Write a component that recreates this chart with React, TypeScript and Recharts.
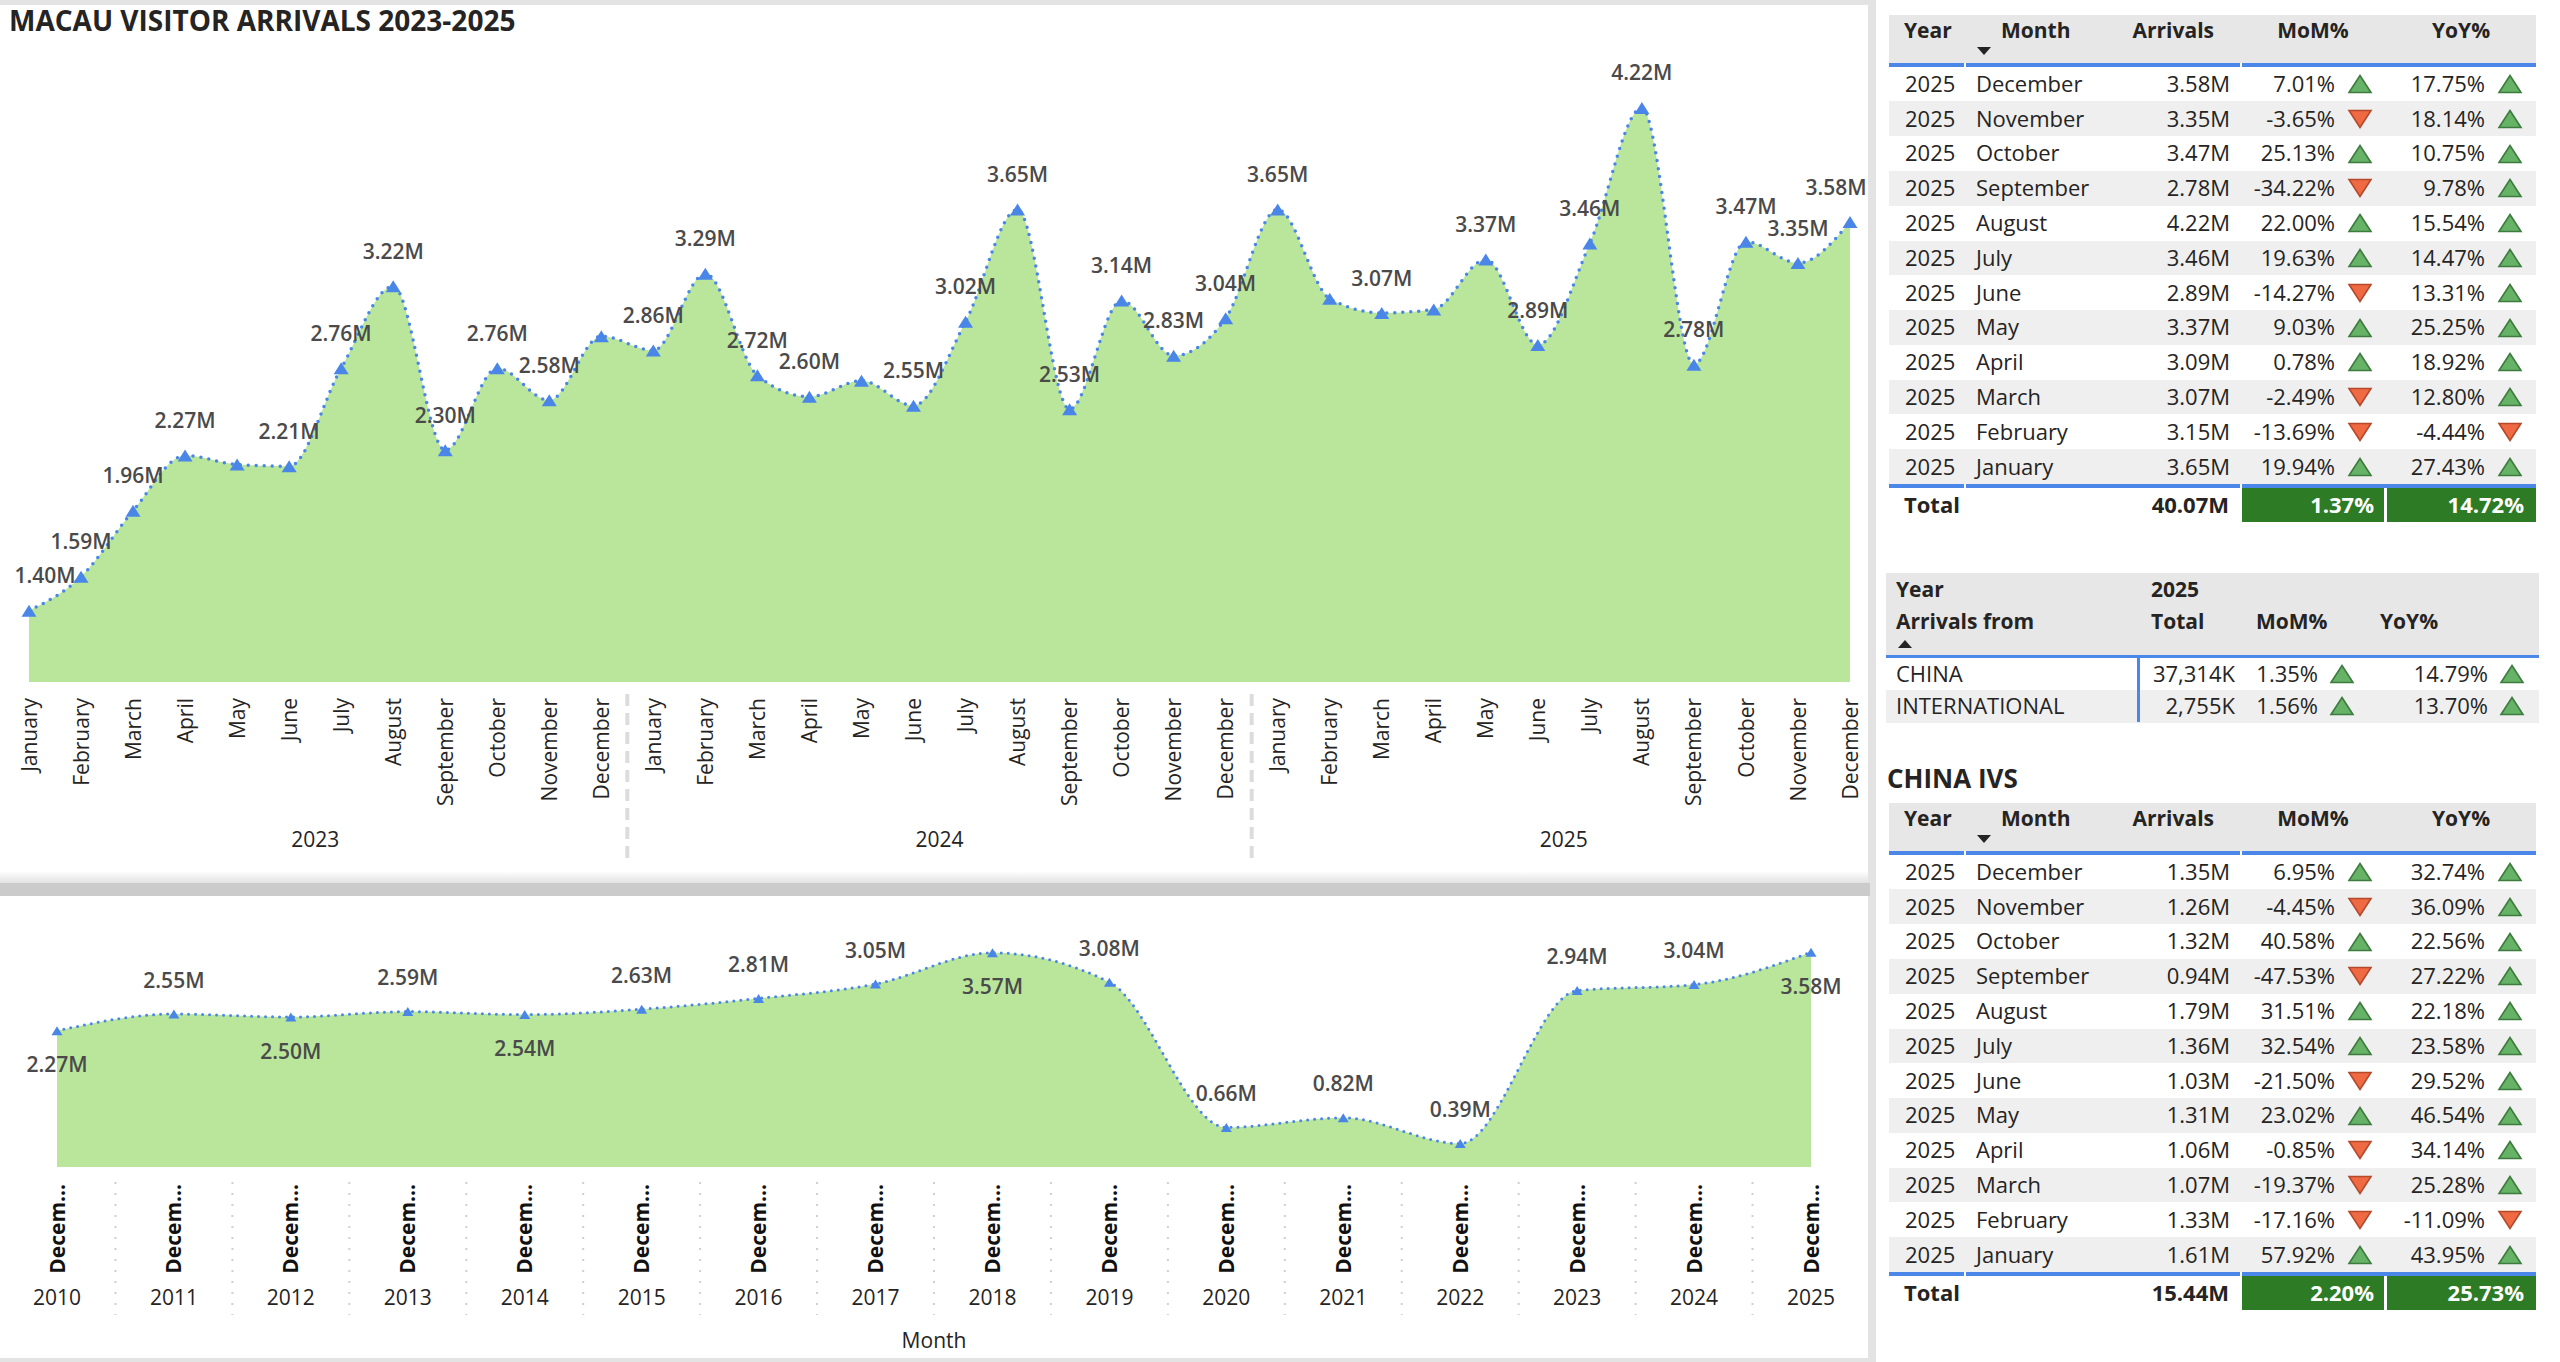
import React from 'react';
import { ComposedChart, Area, Line, XAxis, YAxis } from 'recharts';

const FONT = '"Open Sans", "Noto Sans", sans-serif';
const INK = '#252423';
const LABEL_INK = '#4a4a4a';
const MARKER = '#4a86e8';
const FILL = '#b9e69b';
const RULE_BLUE = '#4b87e8';
const HEAD_BG = '#e7e7e7';
const ROW_BG = '#efefef';
const TOTAL_GREEN = '#2e7b25';

const MONTHS = [
  'January', 'February', 'March', 'April', 'May', 'June',
  'July', 'August', 'September', 'October', 'November', 'December'
];
const YEARS = [2023, 2024, 2025];

// monthly visitor arrivals, millions
const ARRIVALS_2023 = [1.40, 1.59, 1.96, 2.27, 2.22, 2.21, 2.76, 3.22, 2.30, 2.76, 2.58, 2.94];
const ARRIVALS_2024 = [2.86, 3.29, 2.72, 2.60, 2.69, 2.55, 3.02, 3.65, 2.53, 3.14, 2.83, 3.04];
const ARRIVALS_2025 = [3.65, 3.15, 3.07, 3.09, 3.37, 2.89, 3.46, 4.22, 2.78, 3.47, 3.35, 3.58];
const MOM_2025 = [19.94, -13.69, -2.49, 0.78, 9.03, -14.27, 19.63, 22.00, -34.22, 25.13, -3.65, 7.01];
const YOY_2025 = [27.43, -4.44, 12.80, 18.92, 25.25, 13.31, 14.47, 15.54, 9.78, 10.75, 18.14, 17.75];
const TOTAL_2025 = [40.07, 1.37, 14.72]; // arrivals (M), MoM %, YoY %

// December arrivals by year, millions
const DEC_YEARS = [2010, 2011, 2012, 2013, 2014, 2015, 2016, 2017, 2018, 2019, 2020, 2021, 2022, 2023, 2024, 2025];
const DEC_ARRIVALS = [2.27, 2.55, 2.50, 2.59, 2.54, 2.63, 2.81, 3.05, 3.57, 3.08, 0.66, 0.82, 0.39, 2.94, 3.04, 3.58];

// arrivals by origin, 2025
const SOURCES = ['CHINA', 'INTERNATIONAL'];
const SOURCE_TOTAL_K = [37314, 2755];
const SOURCE_MOM = [1.35, 1.56];
const SOURCE_YOY = [14.79, 13.70];

// China individual visit scheme, 2025
const IVS_ARRIVALS_2025 = [1.61, 1.33, 1.07, 1.06, 1.31, 1.03, 1.36, 1.79, 0.94, 1.32, 1.26, 1.35];
const IVS_MOM_2025 = [57.92, -17.16, -19.37, -0.85, 23.02, -21.50, 32.54, 31.51, -47.53, 40.58, -4.45, 6.95];
const IVS_YOY_2025 = [43.95, -11.09, 25.28, 34.14, 46.54, 29.52, 23.58, 22.18, 27.22, 22.56, 36.09, 32.74];
const IVS_TOTAL_2025 = [15.44, 2.20, 25.73];

const mil = (v: number) => `${v.toFixed(2)}M`;
const pct = (v: number) => `${v.toFixed(2)}%`;

const monthlyData = YEARS.flatMap((year, yi) =>
  [ARRIVALS_2023, ARRIVALS_2024, ARRIVALS_2025][yi].map((v, mi) => ({
    key: `${year}-${mi}`,
    year,
    month: MONTHS[mi],
    arrivals: v
  }))
);

const decemberData = DEC_YEARS.map((year, i) => ({ year, month: 'December', arrivals: DEC_ARRIVALS[i] }));

// chart geometry
const TOP_W = 1868;
const TOP_H = 880;
const TOP_MARGIN = { top: 58, right: 18, left: 29, bottom: 0 };
const TOP_AXIS_H = 198;
const TOP_STEP = (TOP_W - TOP_MARGIN.left - TOP_MARGIN.right) / (monthlyData.length - 1);
const TOP_UNLABELLED = new Set(['2023-4', '2023-11', '2024-4', '2025-1', '2025-3']);

const BOT_Y = 896;
const BOT_W = 1868;
const BOT_H = 466;
const BOT_MARGIN = { top: 31, right: 57, left: 57, bottom: 0 };
const BOT_AXIS_H = 195;
const BOT_STEP = (BOT_W - BOT_MARGIN.left - BOT_MARGIN.right) / (decemberData.length - 1);
const BOT_LABEL_BELOW = new Set([2010, 2012, 2014, 2018, 2025]);

const tri = (cx: number, cy: number, w: number, h: number) =>
  `${cx},${cy - h / 2} ${cx + w / 2},${cy + h / 2} ${cx - w / 2},${cy + h / 2}`;

function MonthTick({ x, y, payload }: any) {
  const [year, mi] = String(payload.value).split('-').map(Number);
  return (
    <g>
      <text
        transform={`translate(${x},${y + 16}) rotate(-90)`}
        textAnchor="end"
        dy="0.36em"
        fontSize={21}
        fontFamily={FONT}
        fill={INK}
      >
        {MONTHS[mi]}
      </text>
      {mi === 5 && (
        <text x={x + TOP_STEP / 2} y={y + 157} dy="0.36em" textAnchor="middle" fontSize={21} fontFamily={FONT} fill={INK}>
          {year}
        </text>
      )}
      {mi === 0 && year !== YEARS[0] && (
        <line
          x1={x - TOP_STEP / 2}
          x2={x - TOP_STEP / 2}
          y1={y + 12}
          y2={y + 176}
          stroke="#dcdcdc"
          strokeWidth={4}
          strokeDasharray="12 7"
        />
      )}
    </g>
  );
}

function DecemberTick({ x, y, payload }: any) {
  const year = Number(payload.value);
  const last = year === DEC_YEARS[DEC_YEARS.length - 1];
  return (
    <g>
      <text
        transform={`translate(${x},${y + 17}) rotate(-90)`}
        textAnchor="end"
        dy="0.36em"
        fontSize={21}
        fontWeight={700}
        fontFamily={FONT}
        fill="#111"
      >
        {'December'.slice(0, 5) + '...'}
      </text>
      <text x={x} y={y + 130} dy="0.36em" textAnchor="middle" fontSize={21} fontFamily={FONT} fill={INK}>
        {year}
      </text>
      {!last && (
        <line
          x1={x + BOT_STEP / 2}
          x2={x + BOT_STEP / 2}
          y1={y + 15}
          y2={y + 148}
          stroke="#cfcfcf"
          strokeWidth={2}
          strokeDasharray="2 9"
        />
      )}
    </g>
  );
}

const renderTopPoint = (props: any) => {
  const { cx, cy, payload } = props;
  const lx = Math.min(Math.max(cx, 45), 1836);
  return (
    <g key={`tp-${payload.key}`}>
      <polygon points={tri(cx, cy, 15, 12)} fill={MARKER} />
      {!TOP_UNLABELLED.has(payload.key) && (
        <text
          x={lx}
          y={cy - 35}
          dy="0.36em"
          textAnchor="middle"
          fontSize={21}
          fontWeight={600}
          fontFamily={FONT}
          fill={LABEL_INK}
        >
          {mil(payload.arrivals)}
        </text>
      )}
    </g>
  );
};

const renderDecemberPoint = (props: any) => {
  const { cx, cy, payload } = props;
  const below = BOT_LABEL_BELOW.has(payload.year);
  return (
    <g key={`bp-${payload.year}`}>
      <polygon points={tri(cx, cy, 11, 9)} fill={MARKER} />
      <text
        x={cx}
        y={below ? cy + 34 : cy - 34}
        dy="0.36em"
        textAnchor="middle"
        fontSize={21}
        fontWeight={600}
        fontFamily={FONT}
        fill={LABEL_INK}
      >
        {mil(payload.arrivals)}
      </text>
    </g>
  );
};

function Txt({ x, y, children, align = 'left', size = 22, weight = 400, color = INK }: any) {
  const shift = align === 'left' ? '0' : align === 'right' ? '-100%' : '-50%';
  return (
    <div
      style={{
        position: 'absolute',
        left: x,
        top: y - size * 0.73,
        fontSize: size,
        lineHeight: `${size * 1.4}px`,
        fontWeight: weight,
        color,
        whiteSpace: 'nowrap',
        transform: `translateX(${shift})`
      }}
    >
      {children}
    </div>
  );
}

function Box({ x, y, w, h, bg }: any) {
  return <div style={{ position: 'absolute', left: x, top: y, width: w, height: h, background: bg }} />;
}

function Trend({ x, y, up }: { x: number; y: number; up: boolean }) {
  return (
    <svg style={{ position: 'absolute', left: x - 13, top: y - 10 }} width={26} height={20}>
      {up ? (
        <polygon points="13,1.5 24,18.5 2,18.5" fill="#66b266" stroke="#3e7b3e" strokeWidth={1.6} />
      ) : (
        <polygon points="2,1.5 24,1.5 13,18.5" fill="#ef6a43" stroke="#b4492b" strokeWidth={1.6} />
      )}
    </svg>
  );
}

function SortArrow({ x, y, up }: { x: number; y: number; up: boolean }) {
  return (
    <svg style={{ position: 'absolute', left: x - 7, top: y - 4 }} width={14} height={8}>
      <polygon points={up ? '7,0 14,8 0,8' : '0,0 14,0 7,8'} fill={INK} />
    </svg>
  );
}

function MonthTable({ top, arrivals, mom, yoy, totals }: any) {
  const L = 1889;
  const R = 2536;
  const HEAD = 48;
  const RULE = 3.5;
  const ROW = 34.8;
  const rowsTop = top + HEAD + RULE;
  const footTop = rowsTop + 12 * ROW + RULE;
  const order = MONTHS.map((_, i) => 11 - i);
  const rule = (y: number) => (
    <>
      <Box x={L} y={y} w={1964 - L} h={RULE} bg={RULE_BLUE} />
      <Box x={1966} y={y} w={2240 - 1966} h={RULE} bg={RULE_BLUE} />
      <Box x={2242} y={y} w={R - 2242} h={RULE} bg={RULE_BLUE} />
    </>
  );
  return (
    <>
      <Box x={L} y={top} w={R - L} h={HEAD} bg={HEAD_BG} />
      <Txt x={1904} y={top + 16} size={21} weight={700}>Year</Txt>
      <Txt x={2001} y={top + 16} size={21} weight={700}>Month</Txt>
      <SortArrow x={1984} y={top + 36} up={false} />
      <Txt x={2214} y={top + 16} size={21} weight={700} align="right">Arrivals</Txt>
      <Txt x={2313} y={top + 16} size={21} weight={700} align="center">MoM%</Txt>
      <Txt x={2461} y={top + 16} size={21} weight={700} align="center">YoY%</Txt>
      {rule(top + HEAD)}
      {order.map((mi, r) => {
        const cy = rowsTop + r * ROW + ROW / 2;
        return (
          <React.Fragment key={mi}>
            {r % 2 === 1 && <Box x={L} y={rowsTop + r * ROW} w={R - L} h={ROW} bg={ROW_BG} />}
            <Txt x={1905} y={cy}>2025</Txt>
            <Txt x={1976} y={cy}>{MONTHS[mi]}</Txt>
            <Txt x={2230} y={cy} align="right">{mil(arrivals[mi])}</Txt>
            <Txt x={2335} y={cy} align="right">{pct(mom[mi])}</Txt>
            <Trend x={2360} y={cy} up={mom[mi] >= 0} />
            <Txt x={2485} y={cy} align="right">{pct(yoy[mi])}</Txt>
            <Trend x={2510} y={cy} up={yoy[mi] >= 0} />
          </React.Fragment>
        );
      })}
      {rule(rowsTop + 12 * ROW)}
      <Box x={2242} y={footTop} w={2384 - 2242} h={34} bg={TOTAL_GREEN} />
      <Box x={2387} y={footTop} w={R - 2387} h={34} bg={TOTAL_GREEN} />
      <Txt x={1904} y={footTop + 17} weight={700}>Total</Txt>
      <Txt x={2229} y={footTop + 17} weight={700} align="right">{mil(totals[0])}</Txt>
      <Txt x={2374} y={footTop + 17} weight={700} align="right" color="#fff">{pct(totals[1])}</Txt>
      <Txt x={2524} y={footTop + 17} weight={700} align="right" color="#fff">{pct(totals[2])}</Txt>
    </>
  );
}

function SourceTable() {
  const L = 1886;
  const R = 2539;
  const rowsTop = 657.5;
  const ROW = 32.5;
  return (
    <>
      <Box x={L} y={573} w={R - L} h={82} bg={HEAD_BG} />
      <Txt x={1896} y={590} size={21} weight={700}>Year</Txt>
      <Txt x={2151} y={590} size={21} weight={700}>2025</Txt>
      <Txt x={1896} y={622} size={21} weight={700}>Arrivals from</Txt>
      <Txt x={2151} y={622} size={21} weight={700}>Total</Txt>
      <Txt x={2256} y={622} size={21} weight={700}>MoM%</Txt>
      <Txt x={2380} y={622} size={21} weight={700}>YoY%</Txt>
      <SortArrow x={1905} y={644} up />
      <Box x={L} y={654.5} w={R - L} h={3} bg={RULE_BLUE} />
      {SOURCES.map((name, i) => {
        const cy = rowsTop + i * ROW + ROW / 2;
        return (
          <React.Fragment key={name}>
            {i % 2 === 1 && <Box x={L} y={rowsTop + i * ROW} w={R - L} h={ROW} bg={ROW_BG} />}
            <Txt x={1896} y={cy}>{name}</Txt>
            <Txt x={2235} y={cy} align="right">{`${SOURCE_TOTAL_K[i].toLocaleString('en-US')}K`}</Txt>
            <Txt x={2318} y={cy} align="right">{pct(SOURCE_MOM[i])}</Txt>
            <Trend x={2342} y={cy} up={SOURCE_MOM[i] >= 0} />
            <Txt x={2488} y={cy} align="right">{pct(SOURCE_YOY[i])}</Txt>
            <Trend x={2512} y={cy} up={SOURCE_YOY[i] >= 0} />
          </React.Fragment>
        );
      })}
      <Box x={2137} y={657} w={2.5} h={2 * ROW} bg={RULE_BLUE} />
    </>
  );
}

export default function App() {
  return (
    <div
      style={{
        position: 'fixed',
        left: 0,
        top: 0,
        width: 2560,
        height: 1362,
        overflow: 'hidden',
        background: '#fff',
        fontFamily: FONT
      }}
    >
      {/* panel frames */}
      <Box x={0} y={0} w={1876} h={1362} bg="#e3e3e3" />
      <Box x={0} y={5} w={1868} h={866} bg="#fff" />
      <div
        style={{
          position: 'absolute',
          left: 0,
          top: 871,
          width: 1868,
          height: 12,
          background: 'linear-gradient(#ffffff, #e2e2e2)'
        }}
      />
      <Box x={0} y={883} w={1870} h={13} bg="#cbcbcb" />
      <Box x={0} y={896} w={1868} h={462} bg="#fff" />

      <div
        style={{
          position: 'absolute',
          left: 9,
          top: 1,
          fontSize: 28,
          lineHeight: '39px',
          fontWeight: 700,
          color: INK,
          whiteSpace: 'nowrap'
        }}
      >
        MACAU VISITOR ARRIVALS 2023-2025
      </div>

      <div style={{ position: 'absolute', left: 0, top: 0 }}>
        <ComposedChart width={TOP_W} height={TOP_H} data={monthlyData} margin={TOP_MARGIN}>
          <XAxis
            dataKey="key"
            scale="point"
            interval={0}
            height={TOP_AXIS_H}
            axisLine={false}
            tickLine={false}
            tickSize={0}
            tickMargin={0}
            tick={MonthTick}
          />
          <YAxis hide domain={[1, 4.5]} />
          <Area type="monotone" dataKey="arrivals" stroke="none" fill={FILL} fillOpacity={1} isAnimationActive={false} />
          <Line
            type="monotone"
            dataKey="arrivals"
            stroke={MARKER}
            strokeWidth={3.5}
            strokeDasharray="0 8"
            strokeLinecap="round"
            dot={renderTopPoint}
            activeDot={false}
            isAnimationActive={false}
          />
        </ComposedChart>
      </div>

      <div style={{ position: 'absolute', left: 0, top: BOT_Y }}>
        <ComposedChart width={BOT_W} height={BOT_H} data={decemberData} margin={BOT_MARGIN}>
          <XAxis
            dataKey="year"
            scale="point"
            interval={0}
            height={BOT_AXIS_H}
            axisLine={false}
            tickLine={false}
            tickSize={0}
            tickMargin={0}
            tick={DecemberTick}
            label={{ value: 'Month', position: 'insideBottom', offset: 14, fill: INK, fontSize: 21, fontFamily: FONT }}
          />
          <YAxis hide domain={[0, 4]} />
          <Area type="monotone" dataKey="arrivals" stroke="none" fill={FILL} fillOpacity={1} isAnimationActive={false} />
          <Line
            type="monotone"
            dataKey="arrivals"
            stroke={MARKER}
            strokeWidth={3}
            strokeDasharray="0 7"
            strokeLinecap="round"
            dot={renderDecemberPoint}
            activeDot={false}
            isAnimationActive={false}
          />
        </ComposedChart>
      </div>

      <MonthTable top={15} arrivals={ARRIVALS_2025} mom={MOM_2025} yoy={YOY_2025} totals={TOTAL_2025} />
      <SourceTable />
      <Txt x={1887} y={779} size={26} weight={700}>CHINA IVS</Txt>
      <MonthTable top={803} arrivals={IVS_ARRIVALS_2025} mom={IVS_MOM_2025} yoy={IVS_YOY_2025} totals={IVS_TOTAL_2025} />
    </div>
  );
}
